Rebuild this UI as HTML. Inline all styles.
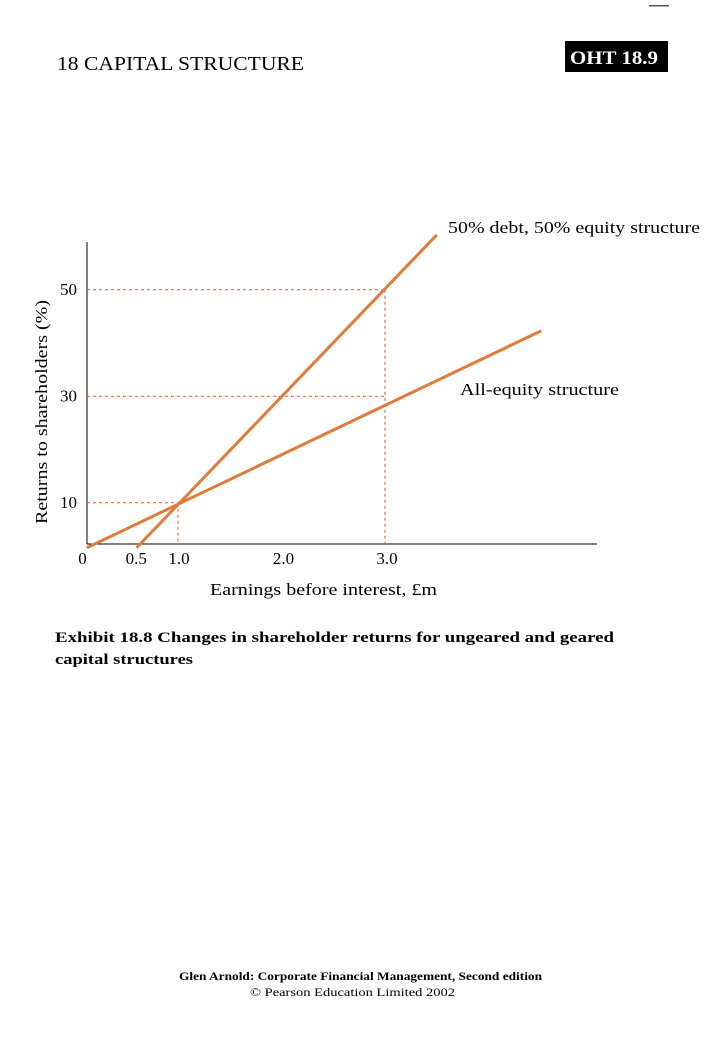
<!DOCTYPE html>
<html><head><meta charset="utf-8"><style>
body{margin:0;background:#fff;}
svg text{font-family:"Liberation Serif",serif;}
</style></head><body>
<svg width="720" height="1040" xmlns="http://www.w3.org/2000/svg">
<rect x="649" y="5" width="20" height="1.5" fill="#555"/>
<text x="57" y="70" font-size="20" textLength="247" lengthAdjust="spacingAndGlyphs">18  CAPITAL STRUCTURE</text>
<rect x="565" y="41" width="103" height="31" fill="#000"/>
<text x="570" y="64" font-size="19" font-weight="bold" fill="#fff" textLength="88" lengthAdjust="spacingAndGlyphs">OHT 18.9</text>
<g id="chart"></g>
<text x="55" y="642" font-size="15" font-weight="bold" textLength="559" lengthAdjust="spacingAndGlyphs">Exhibit 18.8  Changes in shareholder returns for ungeared and geared</text>
<text x="55" y="664" font-size="15" font-weight="bold" textLength="138" lengthAdjust="spacingAndGlyphs">capital structures</text>
<text x="179" y="980" font-size="12" font-weight="bold" textLength="363" lengthAdjust="spacingAndGlyphs">Glen Arnold: Corporate Financial Management, Second edition</text>
<text x="250" y="996" font-size="12" textLength="205" lengthAdjust="spacingAndGlyphs">© Pearson Education Limited 2002</text>
</svg>
<script>
const xTicks=[0,0.5,1.0,2.0,3.0];
const xTickLabels=["0","0.5","1.0","2.0","3.0"];
const yTicks=[10,30,50];
const yTickLabels=["10","30","50"];
const equityX=[0.12,4.51];
const equityY=[1.55,42.3];
const debtX=[0.60,3.50];
const debtY=[1.55,60.3];
const guideX=[1.0,3.0,3.0];
const guideY=[10,30,50];

const NS="http://www.w3.org/2000/svg";
const g=document.getElementById('chart');
function xs(v){return 74.5+103.5*v;}
function ys(v){return 556-5.325*v;}
function mk(t,a){const e=document.createElementNS(NS,t);for(const k in a)e.setAttribute(k,a[k]);g.appendChild(e);return e;}
const C="#e07b39";
let e;
e=mk('line',{x1:87,y1:242,x2:87,y2:544,stroke:'#000','stroke-width':1});


e=mk('line',{x1:87,y1:544,x2:597,y2:544,stroke:'#000','stroke-width':1});


for(let i=0;i<guideX.length;i++){
  e=mk('line',{x1:87,y1:ys(guideY[i]),x2:xs(guideX[i]),y2:ys(guideY[i]),stroke:'#d85a28','stroke-width':1,'stroke-dasharray':'3,3'});
  
  
}
[1.0,3.0].forEach(v=>{
  e=mk('line',{x1:xs(v),y1:ys(guideY[guideX.lastIndexOf(v)]),x2:xs(v),y2:544,stroke:'#d85a28','stroke-width':1,'stroke-dasharray':'3,3'});
  
  
});
e=mk('line',{x1:xs(equityX[0]),y1:ys(equityY[0]),x2:xs(equityX[1]),y2:ys(equityY[1]),stroke:C,'stroke-width':3});


e=mk('line',{x1:xs(debtX[0]),y1:ys(debtY[0]),x2:xs(debtX[1]),y2:ys(debtY[1]),stroke:C,'stroke-width':3});


const xoff=[8,10,1,2,2];
for(let i=0;i<xTicks.length;i++){
  e=mk('text',{x:xs(xTicks[i])+xoff[i],y:564,'font-size':17,'text-anchor':'middle'});
  e.textContent=xTickLabels[i];
  
  
}
for(let i=0;i<yTicks.length;i++){
  e=mk('text',{x:77,y:ys(yTicks[i])+5,'font-size':17,'text-anchor':'end'});
  e.textContent=yTickLabels[i];
  
  
}
e=mk('text',{x:210,y:595,'font-size':17,textLength:227,lengthAdjust:'spacingAndGlyphs'});
e.textContent='Earnings before interest, £m';


e=mk('text',{x:0,y:0,'font-size':17,'text-anchor':'middle',textLength:224,lengthAdjust:'spacingAndGlyphs',transform:'translate(47,412) rotate(-90)'});
e.textContent='Returns to shareholders (%)';


e=mk('text',{x:448,y:233,'font-size':17,textLength:252,lengthAdjust:'spacingAndGlyphs'});
e.textContent='50% debt, 50% equity structure';


e=mk('text',{x:460,y:395,'font-size':17,textLength:159,lengthAdjust:'spacingAndGlyphs'});
e.textContent='All-equity structure';


</script>
</body></html>
